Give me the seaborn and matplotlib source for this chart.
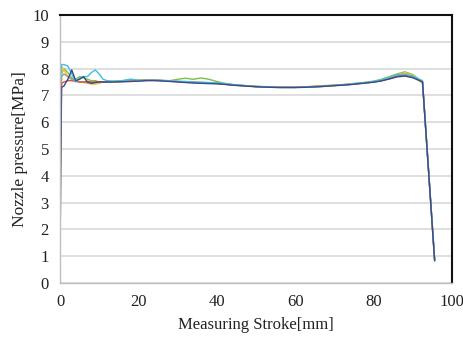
import matplotlib
matplotlib.use("Agg")
import matplotlib.pyplot as plt
import seaborn as sns
import pandas as pd

stroke_mm = [0, 0.4, 1, 2, 3, 4, 5, 6, 7, 8, 9, 10, 11, 12,
             14, 16, 18, 20, 22, 24, 26, 28, 30, 32, 34, 36, 38, 40,
             42, 44, 46, 48, 50, 52, 54, 56, 58, 60, 62, 64, 66, 68,
             70, 72, 74, 76, 78, 80, 82, 84, 86, 88, 90, 92.5, 95.6]

run_navy = [1.1, 7.3, 7.35, 7.6, 7.95, 7.55, 7.6, 7.7, 7.5, 7.45, 7.48, 7.5, 7.5, 7.5,
            7.5, 7.51, 7.52, 7.53, 7.55, 7.55, 7.54, 7.52, 7.5, 7.48, 7.46, 7.45, 7.44, 7.43,
            7.41, 7.38, 7.36, 7.34, 7.32, 7.31, 7.3, 7.29, 7.29, 7.29, 7.3, 7.31, 7.32, 7.34,
            7.36, 7.38, 7.4, 7.43, 7.46, 7.49, 7.54, 7.61, 7.69, 7.72, 7.66, 7.5, 0.82]
run_red = [3.5, 7.45, 7.5, 7.55, 7.55, 7.52, 7.5, 7.5, 7.52, 7.5, 7.5, 7.51, 7.5, 7.5,
           7.52, 7.52, 7.53, 7.55, 7.56, 7.56, 7.55, 7.53, 7.51, 7.5, 7.49, 7.47, 7.46, 7.45,
           7.42, 7.39, 7.37, 7.35, 7.33, 7.32, 7.31, 7.3, 7.3, 7.3, 7.31, 7.33, 7.34, 7.36,
           7.37, 7.39, 7.41, 7.44, 7.47, 7.5, 7.55, 7.63, 7.72, 7.76, 7.7, 7.52, 0.85]
run_gray = [5.0, 7.7, 7.8, 7.7, 7.6, 7.55, 7.5, 7.5, 7.48, 7.47, 7.48, 7.5, 7.5, 7.5,
            7.51, 7.52, 7.52, 7.54, 7.56, 7.57, 7.56, 7.54, 7.52, 7.5, 7.48, 7.47, 7.46, 7.45,
            7.42, 7.39, 7.37, 7.35, 7.33, 7.32, 7.31, 7.3, 7.3, 7.3, 7.31, 7.32, 7.33, 7.35,
            7.37, 7.39, 7.41, 7.44, 7.47, 7.5, 7.55, 7.62, 7.71, 7.75, 7.69, 7.52, 0.84]
run_yellow = [1.0, 8.1, 7.95, 7.7, 7.6, 7.55, 7.5, 7.48, 7.45, 7.42, 7.42, 7.45, 7.5, 7.5,
              7.5, 7.52, 7.53, 7.55, 7.57, 7.57, 7.55, 7.54, 7.52, 7.5, 7.5, 7.49, 7.47, 7.46,
              7.43, 7.4, 7.37, 7.35, 7.33, 7.32, 7.31, 7.31, 7.3, 7.3, 7.31, 7.32, 7.34, 7.36,
              7.38, 7.4, 7.42, 7.45, 7.48, 7.51, 7.57, 7.66, 7.76, 7.85, 7.75, 7.45, 0.9]
run_cyan = [7.3, 8.15, 8.15, 8.1, 7.8, 7.5, 7.65, 7.7, 7.7, 7.85, 7.95, 7.8, 7.6, 7.55,
            7.52, 7.55, 7.6, 7.56, 7.56, 7.57, 7.55, 7.54, 7.53, 7.52, 7.5, 7.49, 7.48, 7.47,
            7.44, 7.4, 7.38, 7.35, 7.33, 7.32, 7.31, 7.3, 7.3, 7.3, 7.31, 7.32, 7.33, 7.35,
            7.37, 7.39, 7.42, 7.45, 7.48, 7.52, 7.58, 7.67, 7.77, 7.8, 7.72, 7.55, 0.83]
run_green = [6.0, 7.8, 8.0, 7.85, 7.65, 7.6, 7.7, 7.65, 7.6, 7.55, 7.55, 7.5, 7.5, 7.52,
             7.53, 7.55, 7.6, 7.57, 7.58, 7.58, 7.56, 7.55, 7.6, 7.64, 7.6, 7.65, 7.6, 7.52,
             7.45, 7.41, 7.38, 7.36, 7.34, 7.33, 7.32, 7.31, 7.31, 7.3, 7.32, 7.33, 7.35, 7.37,
             7.38, 7.4, 7.43, 7.46, 7.49, 7.53, 7.6, 7.7, 7.8, 7.88, 7.78, 7.5, 0.86]

series = {
    "run1": (run_navy, "#3b4a8a"),
    "run2": (run_red, "#e0523a"),
    "run3": (run_gray, "#9a9a9a"),
    "run4": (run_yellow, "#f5c030"),
    "run5": (run_cyan, "#3fc0ea"),
    "run6": (run_green, "#7cc04a"),
}

rows = []
for name, (vals, _) in series.items():
    for x, v in zip(stroke_mm, vals):
        rows.append({"stroke": x, "pressure": v, "run": name})
df = pd.DataFrame(rows)

sns.set_theme(style="white")
plt.rcParams['font.family'] = ['Liberation Serif', 'DejaVu Serif']

fig = plt.figure(figsize=(4.63, 3.38), dpi=100)
ax = fig.add_axes([0.1296, 0.163, 0.8464, 0.7926])

order = ["run6", "run4", "run3", "run2", "run5", "run1"]
sns.lineplot(data=df, x="stroke", y="pressure", hue="run", hue_order=order,
             palette={k: series[k][1] for k in order}, estimator=None, sort=False,
             linewidth=1.0, legend=False, ax=ax)

ax.set_xlim(0, 100)
ax.set_ylim(0, 10)
ax.set_xticks([0, 20, 40, 60, 80, 100])
ax.set_yticks(range(0, 11))
ax.yaxis.grid(True, color="#d9d9d9", linewidth=1.2)
ax.xaxis.grid(False)
ax.set_axisbelow(True)
ax.tick_params(axis="x", length=0, labelsize=12, colors="#222222", pad=8)
ax.tick_params(axis="y", length=0, labelsize=12, colors="#222222", pad=8)
ax.set_xlabel("Measuring Stroke[mm]", fontsize=12, color="#222222", labelpad=5)
ax.set_ylabel("Nozzle pressure[MPa]", fontsize=12.5, color="#222222", labelpad=3)
for s in ["left", "bottom"]:
    ax.spines[s].set_color("#bfbfbf")
    ax.spines[s].set_linewidth(1.0)
for s in ["top", "right"]:
    ax.spines[s].set_color("#111111")
    ax.spines[s].set_linewidth(1.5)

fig.savefig("out.png", dpi=100)
